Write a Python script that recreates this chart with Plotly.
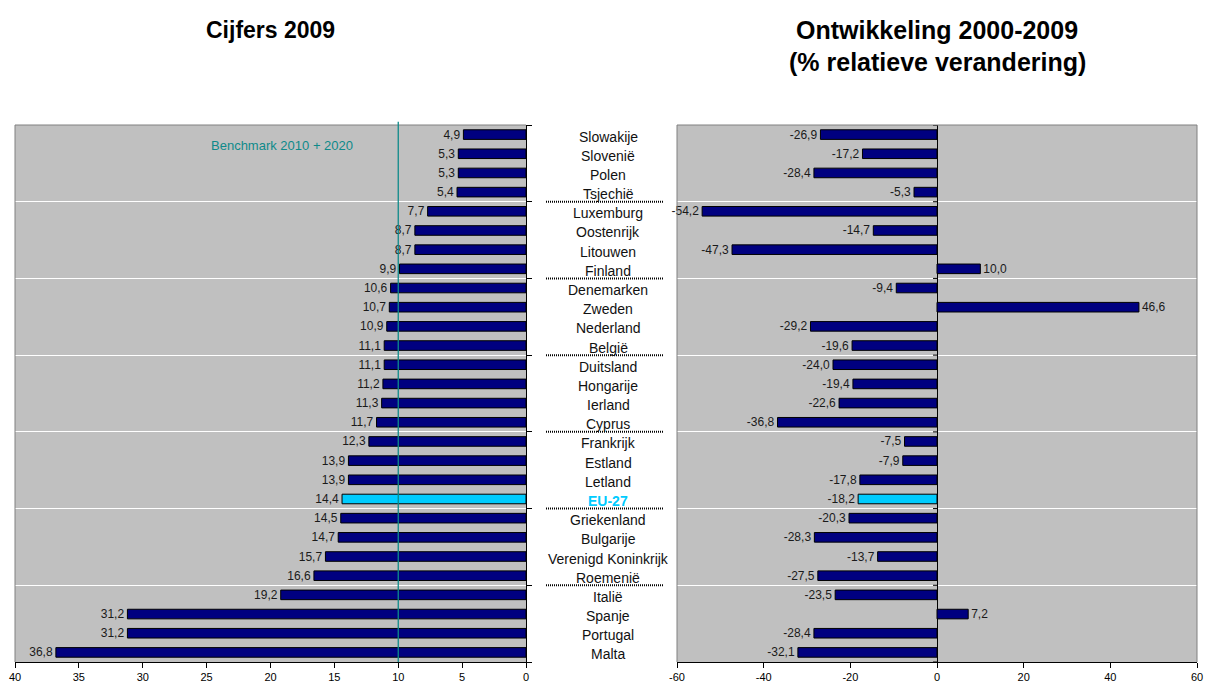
import plotly.graph_objects as go

countries = ["Slowakije", "Slovenië", "Polen", "Tsjechië", "Luxemburg", "Oostenrijk",
             "Litouwen", "Finland", "Denemarken", "Zweden", "Nederland", "België",
             "Duitsland", "Hongarije", "Ierland", "Cyprus", "Frankrijk", "Estland",
             "Letland", "EU-27", "Griekenland", "Bulgarije", "Verenigd Koninkrijk",
             "Roemenië", "Italië", "Spanje", "Portugal", "Malta"]
values_2009 = [4.9, 5.3, 5.3, 5.4, 7.7, 8.7, 8.7, 9.9, 10.6, 10.7, 10.9, 11.1,
               11.1, 11.2, 11.3, 11.7, 12.3, 13.9, 13.9, 14.4, 14.5, 14.7, 15.7,
               16.6, 19.2, 31.2, 31.2, 36.8]
change_2000_2009 = [-26.9, -17.2, -28.4, -5.3, -54.2, -14.7, -47.3, 10.0, -9.4, 46.6,
                    -29.2, -19.6, -24.0, -19.4, -22.6, -36.8, -7.5, -7.9, -17.8, -18.2,
                    -20.3, -28.3, -13.7, -27.5, -23.5, 7.2, -28.4, -32.1]
benchmark = 10
left_ticks = [0, 5, 10, 15, 20, 25, 30, 35, 40]
right_ticks = [-60, -40, -20, 0, 20, 40, 60]
group_size = 4
title_left = "Cijfers 2009"
title_right_1 = "Ontwikkeling 2000-2009"
title_right_2 = "(% relatieve verandering)"
benchmark_label = "Benchmark 2010 + 2020"
highlight = "EU-27"

FONT = "Arial, 'Liberation Sans', sans-serif"
NAVY = "#000080"
CYAN = "#00CCFF"
n = len(countries)
idx = list(range(n))
colors = [CYAN if c == highlight else NAVY for c in countries]


def fmt(v):
    return f"{v:.1f}".replace(".", ",")


W, H = 1206, 687
ml, mr, mt, mb = 15, 9, 125, 25
pw = W - ml - mr
ph = H - mt - mb
left_dom = [0, (526 - ml) / pw]
right_dom = [(677 - ml) / pw, 1]

fig = go.Figure()
for xs, xa, ya in [(values_2009, "x", "y"), (change_2000_2009, "x2", "y2")]:
    fig.add_trace(go.Bar(
        x=xs, y=idx, orientation="h", xaxis=xa, yaxis=ya,
        marker=dict(color=colors, line=dict(color="black", width=1)),
        width=0.5, text=[fmt(v) for v in xs], textposition="outside",
        constraintext="none", cliponaxis=False,
        textfont=dict(family=FONT, size=12, color="#1a1a1a"), hoverinfo="skip"))

grid_vals = [g - 0.5 for g in range(0, n + 1, group_size)]

fig.update_layout(
    width=W, height=H, margin=dict(l=ml, r=mr, t=mt, b=mb, autoexpand=False),
    paper_bgcolor="white", plot_bgcolor="#C0C0C0", showlegend=False,
    font=dict(family=FONT, size=11, color="black"),
    xaxis=dict(domain=left_dom, range=[40, 0], anchor="y", automargin=False,
               tickvals=left_ticks, ticktext=[str(t) for t in left_ticks],
               ticks="outside", ticklen=5, tickcolor="black",
               showline=True, linecolor="black", linewidth=1,
               showgrid=False, zeroline=False, tickfont=dict(size=11)),
    yaxis=dict(anchor="x", side="right", range=[n - 0.5, -0.5], automargin=False,
               tickvals=grid_vals, showticklabels=False,
               ticks="outside", ticklen=5, tickcolor="black",
               showline=True, linecolor="black", linewidth=1,
               showgrid=True, gridcolor="white", gridwidth=1, zeroline=False),
    xaxis2=dict(domain=right_dom, range=[-60, 60], anchor="y2", automargin=False,
                tickvals=right_ticks, ticktext=[str(t) for t in right_ticks],
                ticks="outside", ticklen=5, tickcolor="black",
                showline=True, linecolor="black", linewidth=1,
                showgrid=False, zeroline=True, zerolinecolor="black",
                zerolinewidth=1, tickfont=dict(size=11)),
    yaxis2=dict(anchor="x2", range=[n - 0.5, -0.5], matches="y", automargin=False,
                tickvals=grid_vals, showticklabels=False, ticks="",
                showline=False, showgrid=True, gridcolor="white",
                gridwidth=1, zeroline=False),
)

shapes = []
gray = dict(color="#808080", width=1)
shapes.append(dict(type="line", xref="x domain", yref="y domain", x0=0, x1=1, y0=1, y1=1,
                   line=gray, layer="above"))
shapes.append(dict(type="line", xref="x domain", yref="y domain", x0=0, x1=0, y0=0, y1=1,
                   line=gray, layer="above"))
shapes.append(dict(type="line", xref="x2 domain", yref="y2 domain", x0=0, x1=1, y0=1, y1=1,
                   line=gray, layer="above"))
shapes.append(dict(type="line", xref="x2 domain", yref="y2 domain", x0=0, x1=0, y0=0, y1=1,
                   line=gray, layer="above"))
shapes.append(dict(type="line", xref="x2 domain", yref="y2 domain", x0=1, x1=1, y0=0, y1=1,
                   line=gray, layer="above"))
shapes.append(dict(type="line", xref="x", yref="y domain", x0=benchmark, x1=benchmark,
                   y0=0, y1=1.006, line=dict(color="#0E8A8A", width=1.3), layer="above"))
# small tick marks on the zero line of the right panel
for g in grid_vals:
    shapes.append(dict(type="line", xref="x2", yref="y2", xsizemode="pixel", xanchor=0,
                       x0=-4, x1=0, y0=g, y1=g, line=dict(color="black", width=1),
                       layer="above"))
mid_x0 = (546 - ml) / pw
mid_x1 = (663 - ml) / pw
for g in grid_vals[1:-1]:
    shapes.append(dict(type="line", xref="paper", yref="y", x0=mid_x0, x1=mid_x1,
                       y0=g, y1=g, line=dict(color="black", width=2, dash="1px,1px")))
fig.update_layout(shapes=shapes)

ann = []
mid_x = (608 - ml) / pw
for i, c in enumerate(countries):
    is_hl = c == highlight
    ann.append(dict(xref="paper", yref="y", x=mid_x, y=i, yshift=-2,
                    text=f"<b>{c}</b>" if is_hl else c, showarrow=False,
                    xanchor="center", yanchor="middle",
                    font=dict(family=FONT, size=14, color=CYAN if is_hl else "#111111")))
ann.append(dict(xref="x", yref="y", x=13.4, y=0.55, text=benchmark_label, showarrow=False,
                xanchor="right", yanchor="middle",
                font=dict(family=FONT, size=13, color="#0E8A8A")))
ann.append(dict(xref="x domain", yref="paper", x=(270 - ml) / (526 - ml),
                y=1 + (mt - 30) / ph, text=f"<b>{title_left}</b>", showarrow=False,
                xanchor="center", yanchor="middle",
                font=dict(family=FONT, size=23, color="black")))
ann.append(dict(xref="x2 domain", yref="paper", x=0.5, y=1 + (mt - 30) / ph,
                text=f"<b>{title_right_1}</b>", showarrow=False,
                xanchor="center", yanchor="middle",
                font=dict(family=FONT, size=25, color="black")))
ann.append(dict(xref="x2 domain", yref="paper", x=0.5, y=1 + (mt - 62) / ph,
                text=f"<b>{title_right_2}</b>", showarrow=False,
                xanchor="center", yanchor="middle",
                font=dict(family=FONT, size=25, color="black")))
fig.update_layout(annotations=ann)

fig.write_html("out.html", config={"displayModeBar": False},
               post_script="document.body.style.margin='0';document.body.style.overflow='hidden';")
